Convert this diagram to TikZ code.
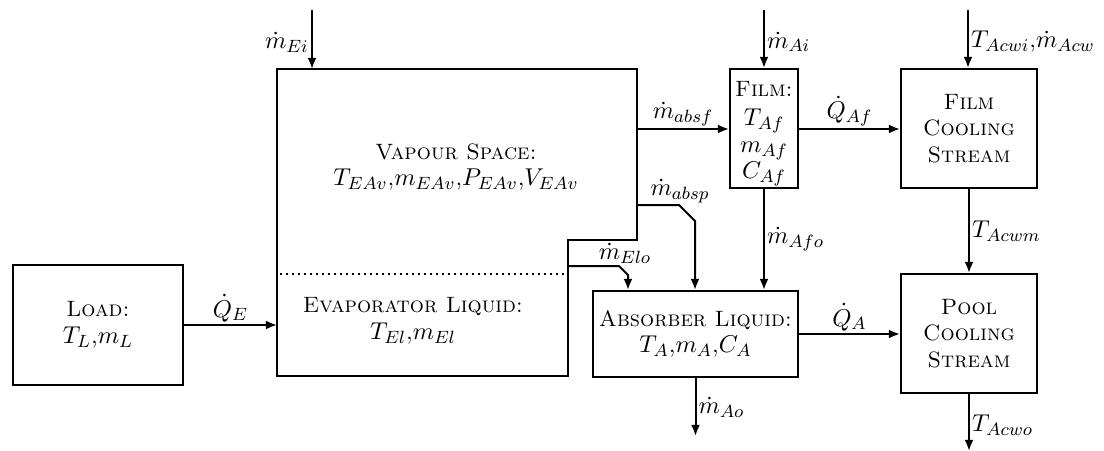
\documentclass[tikz,border=0pt]{standalone}
\usetikzlibrary{arrows.meta}
\newcommand\Ux{0.45pt}
\newcommand\capt[1]{{\fontsize{10}{12}\selectfont\textsc{#1}}}
\begin{document}
\begin{tikzpicture}[x=\Ux,y=-\Ux, line width=0.9pt,
  font=\fontsize{11}{12}\selectfont,
  >={Latex[length=5pt,width=4pt]},
  box/.style={draw, line width=0.9pt, inner sep=0pt, align=center},
  flow/.style={->},
  lbl/.style={inner sep=1pt},
  txt/.style={align=center, inner sep=0pt}]
\useasboundingbox (0,0) rectangle (1104,451);

% boxes
\node[box, minimum width={170*\Ux}, minimum height={120*\Ux}] (load) at (98,325) {\capt{Load:}\\$T_L$,$m_L$};
\node[box, minimum width={68*\Ux}, minimum height={119*\Ux}] (film) at (764,128.5) {};
\node[txt] (filmtxt) at (764,134) {\capt{Film:}\\[1pt]$T_{Af}$\\$m_{Af}$\\$C_{Af}$};
\node[box, minimum width={136*\Ux}, minimum height={119*\Ux}] (fcs) at (969,128.5) {\capt{Film}\\\capt{Cooling}\\\capt{Stream}};
\node[box, minimum width={136*\Ux}, minimum height={119*\Ux}] (pcs) at (969,333.5) {\capt{Pool}\\\capt{Cooling}\\\capt{Stream}};
\node[box, minimum width={205*\Ux}, minimum height={86*\Ux}] (abs) at (695.5,334) {\capt{Absorber Liquid:}\\$T_A$,$m_A$,$C_A$};

% evaporator outline
\coordinate (e1) at (277,69);
\coordinate (e2) at (637,69);
\coordinate (e3) at (637,240);
\coordinate (e4) at (568,240);
\coordinate (e5) at (568,376);
\coordinate (e6) at (277,376);
\draw (e1) -- (e2) -- (e3) -- (e4) -- (e5) -- (e6) -- cycle;
\coordinate (d1) at (280,274);
\coordinate (d2) at (566,274);
\draw[dotted, line width=0.7pt] (d1) -- (d2);
\node[txt] (vap) at (456,167) {\capt{Vapour Space:}\\$T_{EAv}$,$m_{EAv}$,$P_{EAv}$,$V_{EAv}$};
\node[txt] (eliq) at (413,321) {\capt{Evaporator Liquid:}\\$T_{El}$,$m_{El}$};

% inputs from top
\coordinate (mEi0) at (312,10);
\coordinate (mEi1) at (312,69);
\draw[flow] (mEi0) -- (mEi1) node[pos=0.55, left, lbl] {$\dot m_{Ei}$};
\coordinate (mAi0) at (764,10);
\draw[flow] (mAi0) -- (film.north) node[pos=0.55, right, lbl] {$\dot m_{Ai}$};
\coordinate (cw0) at (968,10);
\draw[flow] (cw0) -- (cw0 |- fcs.north) node[pos=0.55, right, lbl] {$T_{Acwi}$,$\dot m_{Acw}$};

% heat from load
\draw[flow] (load.east) -- (load.east -| e1) node[midway, above, lbl] {$\dot Q_E$};

% vapour to film
\coordinate (vf) at (637,129);
\draw[flow] (vf) -- (vf -| film.west) node[midway, above, lbl] {$\dot m_{absf}$};
\draw[flow] (film.east |- vf) -- (vf -| fcs.west) node[midway, above, lbl] {$\dot Q_{Af}$};

% vapour to absorber pool
\coordinate (vp0) at (637,205);
\coordinate (vp1) at (679,205);
\coordinate (vp2) at (695,221);
\draw[flow] (vp0) -- (vp1) -- (vp2) -- (vp2 |- abs.north);
\node[lbl] (labsp) at (680,191) {$\dot m_{absp}$};

% evaporator liquid overflow
\coordinate (el0) at (568,266);
\coordinate (el1) at (619,266);
\coordinate (el2) at (628,275);
\draw[flow] (el0) -- (el1) -- (el2) -- (el2 |- abs.north);
\node[lbl] (lelo) at (625,253) {$\dot m_{Elo}$};

% film to absorber
\draw[flow] (film.south) -- (film.south |- abs.north) node[midway, right, lbl] {$\dot m_{Afo}$};
% film cooling to pool cooling
\draw[flow] (fcs.south) -- (pcs.north) node[midway, right, lbl] {$T_{Acwm}$};
% absorber to pool
\draw[flow] (abs.east) -- (abs.east -| pcs.west) node[midway, above, lbl] {$\dot Q_A$};
% outlets
\coordinate (ao) at (695.5,436);
\draw[flow] (abs.south) -- (ao) node[midway, right, lbl] {$\dot m_{Ao}$};
\coordinate (pco) at (969,451);
\draw[flow] (pcs.south) -- (pco) node[pos=0.55, right, lbl] {$T_{Acwo}$};
\end{tikzpicture}
\end{document}
